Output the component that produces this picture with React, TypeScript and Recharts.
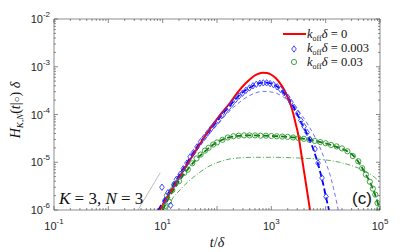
import React from 'react';
import { ComposedChart, Line, Scatter, XAxis, YAxis } from 'recharts';

// axis ticks
const xMajor = [0.1, 1, 10, 100, 1000, 10000, 100000];
const xLabeled = [0.1, 10, 1000, 100000];
const yMajor = [1e-6, 1e-5, 1e-4, 1e-3, 1e-2];

// k_off δ = 0 (red solid)
const redT = [8.9, 12, 16, 22, 30, 42, 60, 85, 120, 170, 240, 330, 420, 540, 680, 830, 1000, 1200, 1450, 1750, 2030, 2400, 2800, 3100, 3670, 4380, 5150];
const redY = [1e-6, 1.8e-6, 3.1e-6, 5.7e-6, 1.0e-5, 1.85e-5, 3.5e-5, 6.2e-5, 1.05e-4, 1.7e-4, 2.9e-4, 4.4e-4, 5.7e-4, 6.9e-4, 7.5e-4, 7.4e-4, 6.8e-4, 5.8e-4, 4.5e-4, 3.2e-4, 2.2e-4, 1.3e-4, 6.5e-5, 4.0e-5, 1.2e-5, 3.3e-6, 1e-6];

// k_off δ = 0.003 (blue)
const blueDiamT = [9.7, 11, 12.5, 14, 16, 18, 21, 24, 28, 32, 37, 43, 50, 58, 67, 78, 90, 105, 122, 142, 165, 190, 220, 255, 295, 340, 395, 460, 530, 615, 710, 820, 950, 1100, 1280, 1480, 1720, 2000, 2300, 2650, 3050, 3500, 4000, 4540, 5150, 6370, 7230, 8570, 10150];
const blueDiamY = [3.0e-6, 1.6e-6, 2.3e-6, 1.25e-6, 3.4e-6, 4.4e-6, 5.6e-6, 7.3e-6, 9.6e-6, 1.3e-5, 1.6e-5, 2.1e-5, 2.7e-5, 3.3e-5, 4.1e-5, 5.1e-5, 6.2e-5, 7.5e-5, 9.5e-5, 1.15e-4, 1.4e-4, 1.7e-4, 2.05e-4, 2.45e-4, 2.8e-4, 3.2e-4, 3.6e-4, 4.0e-4, 4.3e-4, 4.5e-4, 4.6e-4, 4.6e-4, 4.45e-4, 4.2e-4, 3.8e-4, 3.35e-4, 2.85e-4, 2.3e-4, 1.8e-4, 1.4e-4, 1.05e-4, 7.5e-5, 5.6e-5, 4.2e-5, 3.0e-5, 1.9e-5, 9.6e-6, 4.7e-6, 1.9e-6];
const blueFitT = [8.3, 12, 16, 22, 30, 42, 60, 85, 120, 170, 240, 340, 480, 650, 800, 1000, 1300, 1700, 2100, 2600, 3200, 3800, 4500, 5200, 6000, 7000, 8000, 9000, 10000, 11500];
const blueFitY = [1e-6, 2.0e-6, 3.5e-6, 6.3e-6, 1.1e-5, 2.0e-5, 3.5e-5, 5.7e-5, 9.5e-5, 1.5e-4, 2.35e-4, 3.25e-4, 4.1e-4, 4.6e-4, 4.65e-4, 4.45e-4, 3.8e-4, 2.85e-4, 2.1e-4, 1.4e-4, 8.8e-5, 5.8e-5, 4.0e-5, 2.8e-5, 1.8e-5, 1.05e-5, 6.0e-6, 3.5e-6, 2.0e-6, 1e-6];
const blueThinT = [8.5, 15, 30, 60, 100, 200, 400, 700, 1100, 1600, 2200, 3000, 3800, 5000, 6500, 7900, 10000, 12000, 14000, 16000, 17000];
const blueThinY = [1e-6, 3.0e-6, 1.0e-5, 3.0e-5, 6.0e-5, 1.4e-4, 2.5e-4, 3.05e-4, 2.9e-4, 2.4e-4, 1.8e-4, 1.3e-4, 9.0e-5, 5.5e-5, 3.2e-5, 2.0e-5, 1.0e-5, 5.5e-6, 2.8e-6, 1.4e-6, 1e-6];

// k_off δ = 0.03 (green)
const greenCircT = [11, 12, 13, 15, 17, 20, 25, 29, 35, 42, 50, 60, 70, 85, 100, 126, 158, 200, 251, 316, 398, 501, 631, 794, 1000, 1259, 1585, 1995, 2512, 3162, 3981, 5012, 6310, 7943, 10000, 12589, 15849, 19953, 25119, 31623, 39811, 47000, 55000, 65000, 74000, 82000, 90000, 97000];
const greenCircY = [1.2e-6, 2.0e-6, 1.5e-6, 2.6e-6, 3.5e-6, 4.0e-6, 6.0e-6, 7.0e-6, 9.5e-6, 1.2e-5, 1.45e-5, 1.75e-5, 2.0e-5, 2.35e-5, 2.6e-5, 2.95e-5, 3.3e-5, 3.5e-5, 3.6e-5, 3.65e-5, 3.65e-5, 3.65e-5, 3.6e-5, 3.6e-5, 3.55e-5, 3.5e-5, 3.45e-5, 3.4e-5, 3.3e-5, 3.2e-5, 3.1e-5, 2.95e-5, 2.8e-5, 2.65e-5, 2.5e-5, 2.3e-5, 2.15e-5, 1.95e-5, 1.7e-5, 1.35e-5, 1.05e-5, 7.5e-6, 5.5e-6, 3.9e-6, 2.8e-6, 2.1e-6, 1.4e-6, 1.05e-6];
const greenFitT = [10, 13, 17, 22, 30, 40, 55, 75, 100, 150, 220, 350, 600, 1000, 2000, 4000, 8000, 15000, 25000, 35000, 45000, 55000, 65000, 80000, 95000, 100000];
const greenFitY = [1e-6, 1.8e-6, 3.0e-6, 4.7e-6, 7.5e-6, 1.1e-5, 1.55e-5, 2.1e-5, 2.6e-5, 3.2e-5, 3.5e-5, 3.65e-5, 3.62e-5, 3.55e-5, 3.4e-5, 3.1e-5, 2.65e-5, 2.15e-5, 1.7e-5, 1.25e-5, 8.3e-6, 5.5e-6, 3.9e-6, 2.2e-6, 1.2e-6, 1e-6];
const greenDotT = [12, 15, 20, 30, 45, 65, 100, 160, 250, 500, 1000, 3000, 8000, 18000, 35000, 58000, 80000, 100000];
const greenDotY = [1e-6, 1.7e-6, 2.5e-6, 4.0e-6, 5.8e-6, 7.8e-6, 9.8e-6, 1.15e-5, 1.23e-5, 1.27e-5, 1.27e-5, 1.23e-5, 1.15e-5, 1.0e-5, 8.0e-6, 6.2e-6, 4.8e-6, 3.9e-6];

// slope guide
const guideT = [3.5, 9];
const guideY = [1e-6, 6e-6];

const zip = (ts: number[], ys: number[]) => ts.map((t, i) => ({ t, y: ys[i] }));

const minors = (majors: number[]) =>
  majors.slice(0, -1).flatMap(m => [2, 3, 4, 5, 6, 7, 8, 9].map(k => m * k));
const xTicks = [...xMajor, ...minors(xMajor)].sort((a, b) => a - b);
const yTicks = [...yMajor, ...minors(yMajor)].sort((a, b) => a - b);

const isIn = (v: number, list: number[]) => list.some(m => Math.abs(v - m) / m < 1e-6);
const expo = (v: number) => String(Math.round(Math.log10(v)));

const AXIS = '#404040';
const TXT = '#262626';
const SANS = '"Liberation Sans", Arial, sans-serif';
const SERIF = '"Liberation Serif", "Times New Roman", serif';

const BottomTick = ({ x, y, payload }: any) => {
  const v = payload.value;
  const major = isIn(v, xMajor);
  return (
    <g>
      <line x1={x} x2={x} y1={y} y2={y - (major ? 4 : 2)} stroke={AXIS} strokeWidth={0.6} />
      {isIn(v, xLabeled) && (
        <text x={x} y={y + 20} textAnchor="middle" fontFamily={SANS} fontSize={11} fill={TXT}>
          10<tspan dy={-6} fontSize={8}>{expo(v)}</tspan>
        </text>
      )}
    </g>
  );
};

const TopTick = ({ x, y, payload }: any) => {
  const major = isIn(payload.value, xMajor);
  return <line x1={x} x2={x} y1={y} y2={y + (major ? 4 : 2)} stroke={AXIS} strokeWidth={0.6} />;
};

const LeftTick = ({ x, y, payload }: any) => {
  const v = payload.value;
  const major = isIn(v, yMajor);
  return (
    <g>
      <line x1={x} x2={x + (major ? 4 : 2)} y1={y} y2={y} stroke={AXIS} strokeWidth={0.6} />
      {major && (
        <text x={x - 4} y={y + 4} textAnchor="end" fontFamily={SANS} fontSize={11} fill={TXT}>
          10<tspan dy={-6} fontSize={8}>{expo(v)}</tspan>
        </text>
      )}
    </g>
  );
};

const RightTick = ({ x, y, payload }: any) => {
  const major = isIn(payload.value, yMajor);
  return <line x1={x} x2={x - (major ? 4 : 2)} y1={y} y2={y} stroke={AXIS} strokeWidth={0.6} />;
};

const Diamond = (p: any) => (
  <path
    d={`M${p.cx},${p.cy - 3.2}L${p.cx + 2.3},${p.cy}L${p.cx},${p.cy + 3.2}L${p.cx - 2.3},${p.cy}Z`}
    fill="none"
    stroke="#3333ff"
    strokeWidth={0.9}
  />
);

const Circle = (p: any) => (
  <circle cx={p.cx} cy={p.cy} r={2.6} fill="none" stroke="#2e9a2e" strokeWidth={0.9} />
);

const KoffLabel = ({ x, y, val }: { x: number; y: number; val: string }) => (
  <text x={x} y={y} fontFamily={SERIF} fontSize={12.5} fill="#111">
    <tspan fontStyle="italic">k</tspan>
    <tspan fontSize={8} dy={2.5}>off</tspan>
    <tspan dy={-2.5} fontStyle="italic">δ</tspan> = {val}
  </text>
);

const axisCommon = {
  type: 'number' as const,
  scale: 'log' as const,
  allowDataOverflow: true,
  interval: 0,
  tickSize: 0,
  tickMargin: 0,
  stroke: AXIS,
  strokeWidth: 0.6,
};

export default function App() {
  return (
    <div style={{ position: 'absolute', left: 0, top: 0, width: 420, height: 252, background: '#fff' }}>
      <ComposedChart width={420} height={252} margin={{ top: 18, right: 39, bottom: 41, left: 53 }}>
        <XAxis {...axisCommon} dataKey="t" domain={[0.1, 100000]} ticks={xTicks} height={1} tick={<BottomTick />} />
        <XAxis {...axisCommon} xAxisId="top" orientation="top" dataKey="t" domain={[0.1, 100000]} ticks={xTicks} height={1} tick={<TopTick />} />
        <YAxis {...axisCommon} domain={[1e-6, 1e-2]} ticks={yTicks} width={1} tick={<LeftTick />} />
        <YAxis {...axisCommon} yAxisId="right" orientation="right" domain={[1e-6, 1e-2]} ticks={yTicks} width={1} tick={<RightTick />} />

        <Line data={zip(guideT, guideY)} dataKey="y" type="linear" stroke="#a0a0a0" strokeWidth={0.7} dot={false} isAnimationActive={false} />
        <Line data={zip(greenDotT, greenDotY)} dataKey="y" type="monotone" stroke="#2e9a2e" strokeWidth={0.8} strokeDasharray="5 2 1 2" dot={false} isAnimationActive={false} />
        <Line data={zip(blueThinT, blueThinY)} dataKey="y" type="monotone" stroke="#4d4dff" strokeWidth={0.8} strokeDasharray="4 3" dot={false} isAnimationActive={false} />
        <Scatter data={zip(greenCircT, greenCircY)} dataKey="y" shape={Circle} isAnimationActive={false} />
        <Scatter data={zip(blueDiamT, blueDiamY)} dataKey="y" shape={Diamond} isAnimationActive={false} />
        <Line data={zip(greenFitT, greenFitY)} dataKey="y" type="monotone" stroke="#0a7a0a" strokeWidth={1.8} strokeDasharray="6 3" dot={false} isAnimationActive={false} />
        <Line data={zip(blueFitT, blueFitY)} dataKey="y" type="monotone" stroke="#0000ff" strokeWidth={1.8} strokeDasharray="6 3" dot={false} isAnimationActive={false} />
        <Line data={zip(redT, redY)} dataKey="y" type="monotone" stroke="#ff0000" strokeWidth={2} dot={false} isAnimationActive={false} />
      </ComposedChart>

      <svg width={420} height={252} style={{ position: 'absolute', left: 0, top: 0, pointerEvents: 'none' }}>
        <line x1={283} x2={306} y1={34} y2={34} stroke="#ff0000" strokeWidth={2} />
        <KoffLabel x={307} y={38} val="0" />
        <path d="M294,45.8L296.3,49L294,52.2L291.7,49Z" fill="none" stroke="#3333ff" strokeWidth={0.9} />
        <KoffLabel x={307} y={52} val="0.003" />
        <circle cx={294} cy={62} r={2.6} fill="none" stroke="#2e9a2e" strokeWidth={0.9} />
        <KoffLabel x={307} y={66} val="0.03" />

        <text x={59} y={204} fontFamily={SERIF} fontSize={17} fill="#111">
          <tspan fontStyle="italic">K</tspan> = 3, <tspan fontStyle="italic">N</tspan> = 3
        </text>
        <text x={352} y={204} fontFamily={SANS} fontSize={17} fill="#111">(c)</text>

        <text x={217} y={247} textAnchor="middle" fontFamily={SERIF} fontSize={14} fill="#111">
          <tspan fontStyle="italic">t</tspan>/<tspan fontStyle="italic">δ</tspan>
        </text>
        <text transform="translate(20,110) rotate(-90)" textAnchor="middle" fontFamily={SERIF} fontSize={14} fill="#111">
          <tspan fontStyle="italic">H</tspan>
          <tspan fontSize={9} dy={3} fontStyle="italic">K,N</tspan>
          <tspan dy={-3}>(</tspan>
          <tspan fontStyle="italic">t</tspan>|<tspan fontSize={10}>○</tspan>) <tspan fontStyle="italic">δ</tspan>
        </text>
      </svg>
    </div>
  );
}
